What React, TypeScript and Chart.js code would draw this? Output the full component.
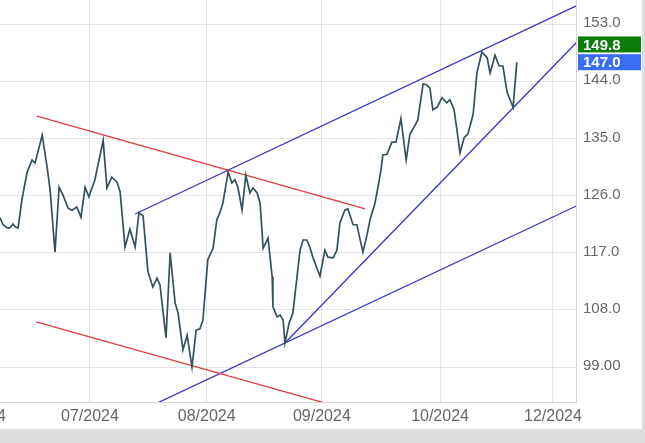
import React, { useEffect, useRef } from "react";
import { Chart, registerables } from "chart.js";

Chart.register(...registerables);

// day offsets from 2024-06-01
const priceDays = [6.1,6.9,8.0,8.7,9.5,10.3,10.9,11.9,13.3,14.6,15.4,17.3,18.6,19.4,20.7,21.8,22.8,24.2,25.2,26.5,27.6,28.7,29.7,31.3,33.5,34.5,35.8,37.2,38.0,39.3,40.6,42.0,43.0,44.1,45.4,46.7,47.8,48.6,50.2,51.3,52.6,53.4,54.7,55.8,57.1,58.2,59.2,60.0,61.3,62.7,63.7,64.5,65.3,66.7,67.7,68.5,69.3,70.4,71.4,72.5,73.3,74.4,75.2,76.0,77.3,78.4,78.6,79.7,80.5,81.3,81.8,82.9,83.9,85.0,85.8,86.6,87.6,88.4,89.2,91.1,92.4,93.2,94.6,95.6,96.4,97.7,98.5,99.9,100.9,102.5,103.6,104.4,105.7,106.5,107.3,107.8,108.9,110.2,111.3,112.6,114.0,115.0,116.3,117.1,118.5,119.5,120.3,121.1,122.2,123.5,124.8,125.6,126.7,127.5,128.3,129.4,130.4,131.8,132.8,134.1,135.5,136.3,137.6,138.7,139.7,140.8,142.4,143.4];
const priceValues = [122.5,121.4,120.9,120.9,121.5,121.0,120.9,125.3,129.7,131.6,131.1,135.5,130.5,126.9,117.1,127.3,126.1,124.0,123.7,124.2,122.6,127.3,125.8,128.5,134.7,127.2,128.9,128.1,126.6,117.9,120.7,117.9,123.3,122.8,114.0,111.6,113.0,111.9,103.6,117.0,109.1,107.5,101.7,104.0,99.0,104.8,105.0,106.4,115.9,117.7,122.2,123.3,124.8,129.7,128.0,128.5,127.3,123.7,129.2,126.4,127.2,126.4,124.8,117.7,119.3,113.2,108.5,106.9,107.2,106.4,102.8,105.9,107.5,113.2,117.4,119.0,119.0,117.9,116.3,113.3,117.4,116.3,116.2,117.4,121.7,123.7,123.9,121.4,121.4,117.1,119.8,122.2,124.8,127.3,130.0,132.4,132.5,134.4,134.4,138.1,131.6,135.7,137.0,137.9,143.6,143.4,142.9,139.5,139.9,141.4,140.6,141.1,139.6,136.3,132.7,135.1,135.7,138.8,145.3,148.6,147.7,145.3,148.1,146.4,146.4,142.3,139.9,147.0];

// trend lines: [startDay, startValue, endDay, endValue]
const redLines = [
  [15.9, 138.5, 103.1, 123.9],
  [15.7, 106.1, 93.8, 93.1],
];
const blueLines = [
  [42.0, 123.1, 162.0, 156.65],
  [81.8, 102.78, 162.0, 151.79],
  [45.9, 92.78, 162.0, 125.14],
];

const xTickDays = [0, 30, 61, 91.6, 123, 153];
const xTickLabels = ["06/2024", "07/2024", "08/2024", "09/2024", "10/2024", "12/2024"];
const yTickValues = [99, 108, 117, 126, 135, 144, 153];

const tagValues = [149.8, 147.0];
const tagColors = ["#0b7d0b", "#3b6cf5"];

const FONT = 'Arial, "Liberation Sans", sans-serif';

export default function App() {
  const ref = useRef<HTMLCanvasElement | null>(null);

  useEffect(() => {
    const canvas = ref.current;
    if (!canvas) return;

    const priceData = priceDays.map((d, i) => ({ x: d, y: priceValues[i] }));
    const lineDs = (l: number[], color: string) => ({
      data: [
        { x: l[0], y: l[1] },
        { x: l[2], y: l[3] },
      ],
      borderColor: color,
      borderWidth: 1.3,
      pointRadius: 0,
      fill: false,
    });

    const tagPlugin = {
      id: "tags",
      afterDraw(chart: any) {
        const ctx = chart.ctx;
        const y = chart.scales.y;
        const right = chart.chartArea.right;
        ctx.save();
        tagValues.forEach((v, i) => {
          const py = y.getPixelForValue(v);
          ctx.fillStyle = tagColors[i];
          ctx.fillRect(right + 2, py - 8, chart.width - 1 - (right + 2), 16);
          ctx.fillStyle = "#ffffff";
          ctx.font = `bold 15px ${FONT}`;
          ctx.textBaseline = "middle";
          ctx.textAlign = "left";
          ctx.fillText(v.toFixed(1), right + 7, py + 1);
        });
        ctx.restore();
      },
    };

    const chart = new Chart(canvas, {
      type: "line",
      data: {
        datasets: [
          {
            data: priceData,
            borderColor: "#34515e",
            borderWidth: 1.7,
            pointRadius: 0,
            tension: 0,
            fill: false,
          },
          ...redLines.map((l) => lineDs(l, "#e23b3b")),
          ...blueLines.map((l) => lineDs(l, "#3535c8")),
        ] as any,
      },
      options: {
        animation: false,
        responsive: false,
        devicePixelRatio: 1,
        layout: { padding: 0 },
        plugins: { legend: { display: false }, tooltip: { enabled: false } },
        scales: {
          x: {
            type: "linear",
            position: "bottom",
            min: -9.85,
            max: 159.12,
            afterBuildTicks: (s: any) => {
              s.ticks = xTickDays.map((v) => ({ value: v }));
            },
            afterFit: (s: any) => {
              s.height = 27;
              s.paddingLeft = 0;
              s.paddingRight = 0;
              s.paddingTop = 0;
              s.paddingBottom = 0;
            },
            ticks: {
              callback: (_v: any, i: number) => xTickLabels[i],
              color: "#666666",
              font: { family: FONT, size: 16 },
              padding: 5,
              maxRotation: 0,
              autoSkip: false,
            },
            grid: { color: "#e3e3e3", drawTicks: false },
            border: { color: "#d6d6d6" },
          },
          y: {
            type: "linear",
            position: "right",
            min: 93.49,
            max: 161.52,
            afterBuildTicks: (s: any) => {
              s.ticks = yTickValues.map((v) => ({ value: v }));
            },
            afterFit: (s: any) => {
              s.width = 66;
              s.paddingLeft = 0;
              s.paddingRight = 0;
              s.paddingTop = 0;
              s.paddingBottom = 0;
            },
            ticks: {
              callback: (v: any) => Number(v).toPrecision(4),
              color: "#666666",
              font: { family: FONT, size: 15 },
              padding: 7,
              labelOffset: -1,
            },
            grid: { color: "#e3e3e3", drawTicks: false },
            border: { color: "#d6d6d6" },
          },
        },
      },
      plugins: [tagPlugin],
    });
    return () => chart.destroy();
  }, []);

  return (
    <div style={{ position: "fixed", left: 0, top: 0, width: 645, height: 443, background: "#dcdedd", overflow: "hidden" }}>
      <div style={{ position: "absolute", left: 0, top: 0, width: 642, height: 429, background: "#ffffff" }} />
      <canvas
        ref={ref}
        width={702}
        height={459}
        style={{ position: "absolute", left: -60, top: -30, width: 702, height: 459 }}
      />
    </div>
  );
}
